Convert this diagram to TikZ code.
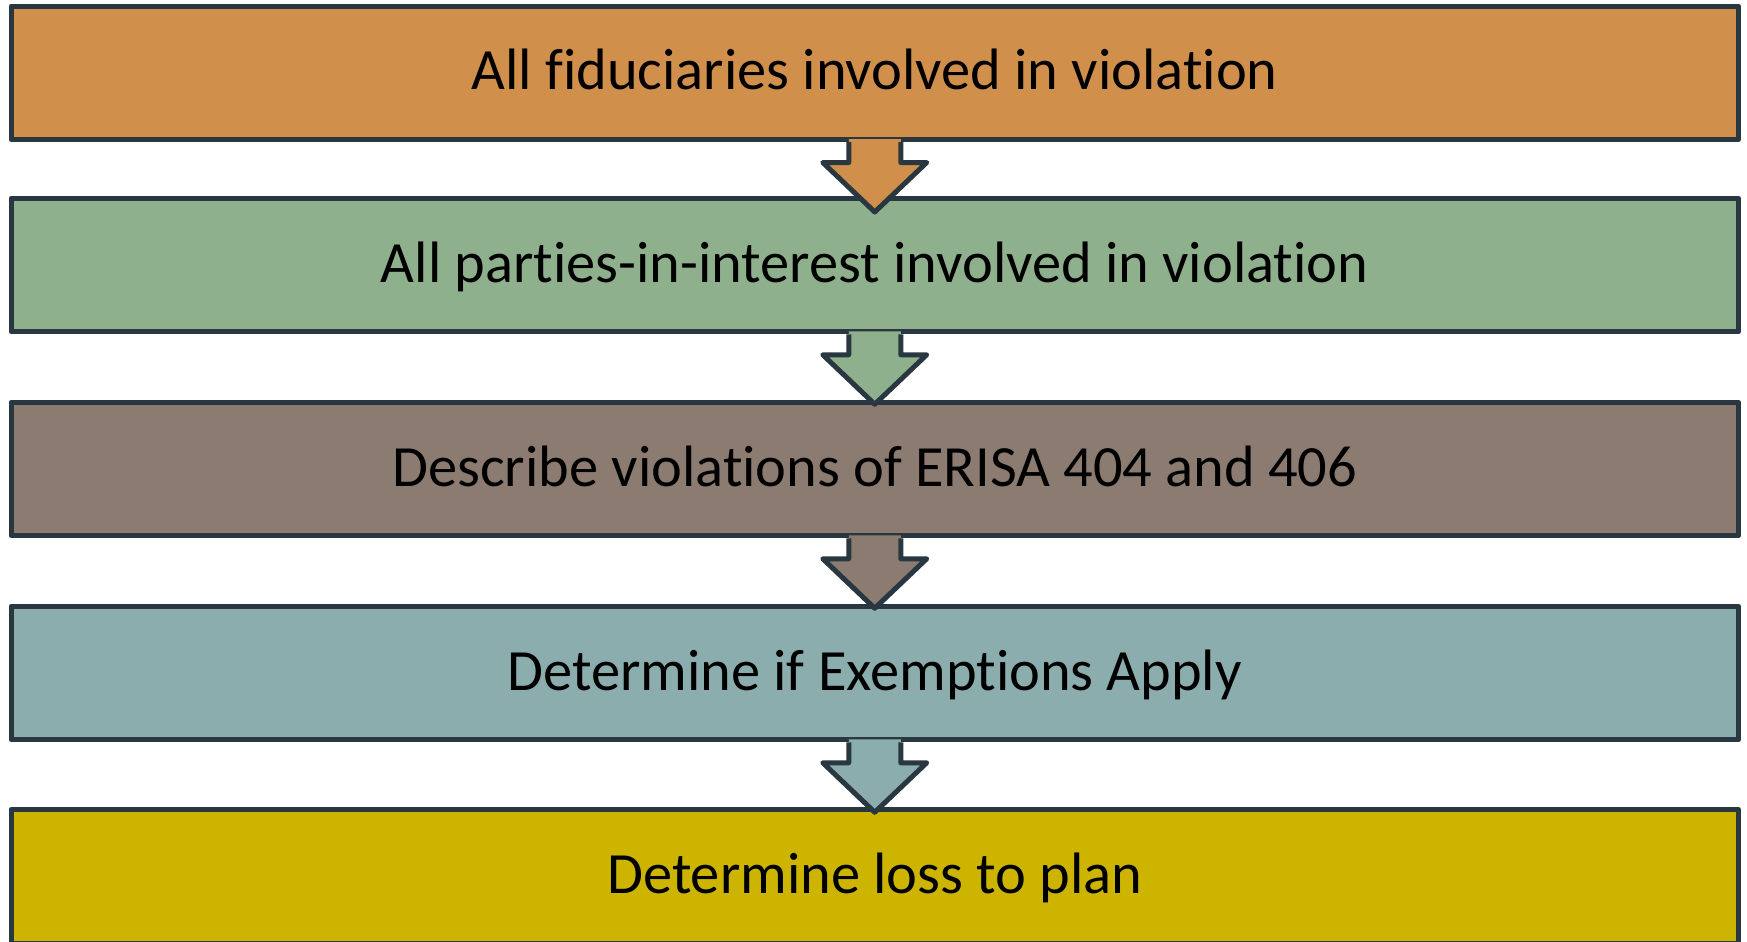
\documentclass[tikz,border=0pt]{standalone}
\usepackage{fontspec}
\setmainfont[Ligatures={NoCommon}]{Carlito}
\definecolor{edgecol}{RGB}{41,56,64}
\definecolor{stepA}{RGB}{208,143,74}
\definecolor{stepB}{RGB}{143,176,140}
\definecolor{stepC}{RGB}{139,123,112}
\definecolor{stepD}{RGB}{139,173,173}
\definecolor{stepE}{RGB}{204,180,0}
\tikzset{
  edge/.style={draw=edgecol, line width=2.5pt, line join=round},
  stepbox/.style={edge, rectangle, minimum width=863.75pt, minimum height=66.75pt,
    inner sep=0pt, text height=17pt, text depth=0pt,
    font=\fontsize{29.2pt}{34pt}\selectfont},
  pics/flowarrow/.style={code={
    \fill[#1] (-26,-3) -- (-26,20.5) -- (-52,20.5) -- (0,70) -- (52,20.5)
      -- (26,20.5) -- (26,-3) -- cycle;
    \draw[edge] (-26,0) -- (-26,20.5) -- (-52,20.5) -- (0,70) -- (52,20.5)
      -- (26,20.5) -- (26,0);
  }}
}
\begin{document}
\begin{tikzpicture}[x=0.5pt,y=-0.5pt]
\useasboundingbox (0,0) rectangle (1747,942);
\node[stepbox, fill=stepA] (b1) at (874.75,72.75) {All fiduciaries involved in violation};
\node[stepbox, fill=stepB] (b2) at (874.75,265) {All parties-in-interest involved in violation};
\node[stepbox, fill=stepC] (b3) at (874.75,469) {Describe violations of ERISA 404 and 406};
\node[stepbox, fill=stepD] (b4) at (874.75,673) {Determine if Exemptions Apply};
\node[stepbox, fill=stepE] (b5) at (874.75,876.25) {Determine loss to plan};
\pic at (b1.south) {flowarrow=stepA};
\pic at (b2.south) {flowarrow=stepB};
\pic at (b3.south) {flowarrow=stepC};
\pic at (b4.south) {flowarrow=stepD};
\end{tikzpicture}
\end{document}
